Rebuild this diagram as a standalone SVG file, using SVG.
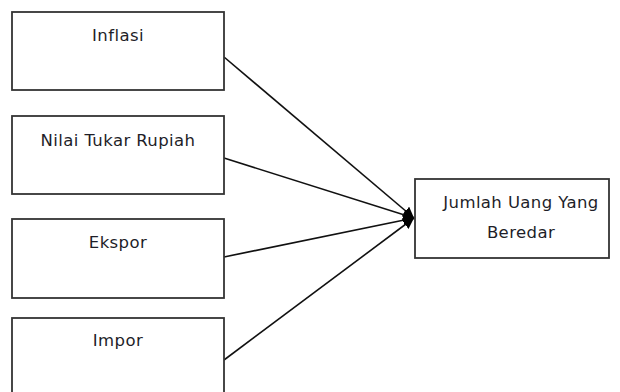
<svg xmlns="http://www.w3.org/2000/svg" width="620" height="392" viewBox="0 0 620 392">
<defs>
<marker id="ah" viewBox="0 0 10 10" refX="10" refY="5" markerWidth="11" markerHeight="11" markerUnits="userSpaceOnUse" orient="auto">
<path d="M0,0 L10,5 L0,10 z" fill="#000"/>
</marker>
<style>
.box{fill:#fff;stroke:#333;stroke-width:1.8}
.t{font-family:"DejaVu Sans",Verdana,sans-serif;font-size:16.5px;letter-spacing:0.4px;fill:#1e1e28;text-anchor:middle}
.c{stroke:#111;stroke-width:1.6;fill:none;marker-end:url(#ah)}
</style>
</defs>
<rect width="620" height="392" fill="#fff"/>
<g id="connectors">
<line class="c" x1="224" y1="57" x2="414" y2="218"/>
<line class="c" x1="224" y1="158" x2="414" y2="218"/>
<line class="c" x1="224" y1="257" x2="414" y2="218"/>
<line class="c" x1="224" y1="360" x2="414" y2="218"/>
</g>
<g id="inflasi">
<rect class="box" x="12" y="12" width="212" height="78"/>
<text class="t" x="118" y="41">Inflasi</text>
</g>
<g id="nilai-tukar">
<rect class="box" x="12" y="116" width="212" height="78"/>
<text class="t" x="118" y="146">Nilai Tukar Rupiah</text>
</g>
<g id="ekspor">
<rect class="box" x="12" y="219" width="212" height="79"/>
<text class="t" x="118" y="248">Ekspor</text>
</g>
<g id="impor">
<rect class="box" x="12" y="318" width="212" height="80"/>
<text class="t" x="118" y="346">Impor</text>
</g>
<g id="jumlah-uang">
<rect class="box" x="415" y="179" width="194" height="79"/>
<text class="t" x="521" y="208">Jumlah Uang Yang</text>
<text class="t" x="521" y="238">Beredar</text>
</g>
</svg>
